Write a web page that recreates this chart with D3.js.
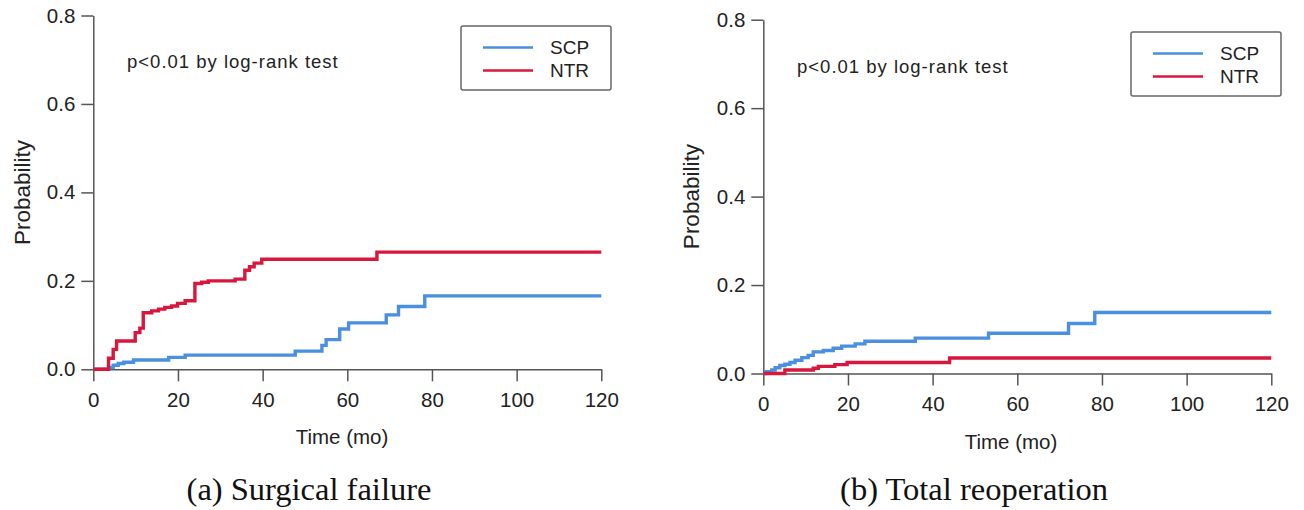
<!DOCTYPE html>
<html>
<head>
<meta charset="utf-8">
<script src="https://cdn.jsdelivr.net/npm/d3@7"></script>
<style>
  body { margin: 0; background: #fff; }
  text { font-family: "Liberation Sans", Arial, sans-serif; fill: #222; }
  .caption { font-family: "Liberation Serif", "Times New Roman", serif; fill: #111; }
</style>
</head>
<body>
<svg width="1304" height="510"></svg>
<script>
var timeTicks = [0, 20, 40, 60, 80, 100, 120];
var probTicks = [0, 0.2, 0.4, 0.6, 0.8];
var seriesNames = ["SCP", "NTR"];
var pText = "p<0.01 by log-rank test";
var captions = ["(a) Surgical failure", "(b) Total reoperation"];

// (a) surgical failure
var failScpT = [0, 3.6, 4.7, 5.9, 7.2, 9.5, 17.8, 21.7, 47.7, 54, 55, 58.2, 60.3, 69.2, 72.1, 78.3, 120];
var failScpP = [0, 0.004, 0.009, 0.013, 0.016, 0.021, 0.027, 0.032, 0.041, 0.054, 0.067, 0.091, 0.105, 0.123, 0.142, 0.166, 0.166];
var failNtrT = [0, 3.6, 4.7, 5.5, 9.9, 11.0, 11.8, 13.8, 15.4, 16.9, 18.5, 19.9, 21.7, 24.0, 25.6, 27.2, 33.5, 35.8, 36.9, 38.0, 39.8, 67, 120];
var failNtrP = [0, 0.025, 0.045, 0.064, 0.083, 0.093, 0.128, 0.132, 0.136, 0.14, 0.143, 0.149, 0.155, 0.194, 0.197, 0.2, 0.204, 0.224, 0.232, 0.24, 0.249, 0.265, 0.265];

// (b) total reoperation
var reopScpT = [0, 0.5, 2.0, 2.8, 3.9, 5.1, 6.3, 7.5, 9.1, 10.6, 11.8, 14.2, 16.5, 18.5, 21.7, 24.0, 35.9, 53.2, 72.1, 78.3, 120];
var reopScpP = [0, 0.004, 0.008, 0.013, 0.018, 0.021, 0.025, 0.03, 0.036, 0.041, 0.049, 0.052, 0.057, 0.062, 0.067, 0.073, 0.08, 0.091, 0.113, 0.138, 0.138];
var reopNtrT = [0, 5.1, 11.8, 13.0, 16.9, 19.8, 44.0, 120];
var reopNtrP = [0, 0.008, 0.012, 0.016, 0.02, 0.025, 0.035, 0.035];

var colors = ["#4a8fe0", "#d8173c"];

var svg = d3.select("svg");

var panels = [
  { x0: 93.3, x1: 601.3, y0: 369.3, y1: 15.5, ylab: 22.5, xlab: 342, pX: 127, pY: 68,
    leg: [461, 26, 150, 64], cap: 309,
    curves: [[failScpT, failScpP], [failNtrT, failNtrP]] },
  { x0: 763.3, x1: 1271.3, y0: 373.5, y1: 19.7, ylab: 691, xlab: 1011, pX: 797, pY: 73,
    leg: [1131, 32, 150, 64], cap: 974,
    curves: [[reopScpT, reopScpP], [reopNtrT, reopNtrP]] }
];

panels.forEach(function(p, i) {
  var x = d3.scaleLinear().domain([0, 120]).range([p.x0, p.x1]);
  var y = d3.scaleLinear().domain([0, 0.8]).range([p.y0, p.y1]);
  var g = svg.append("g");

  var xAxis = g.append("g")
    .attr("transform", "translate(0," + p.y0 + ")")
    .call(d3.axisBottom(x).tickValues(timeTicks).tickSize(12).tickSizeOuter(0).tickPadding(11));
  var yAxis = g.append("g")
    .attr("transform", "translate(" + p.x0 + ",0)")
    .call(d3.axisLeft(y).tickValues(probTicks).tickFormat(d3.format(".1f")).tickSize(12).tickSizeOuter(0).tickPadding(6));
  [xAxis, yAxis].forEach(function(a) {
    a.selectAll("path, line").attr("stroke", "#555").attr("stroke-width", 1.5);
    a.selectAll("text").attr("font-size", 20.5).attr("fill", "#222")
      .style("font-family", '"Liberation Sans", Arial, sans-serif');
  });

  g.append("text")
    .attr("transform", "translate(" + p.ylab + "," + (p.y0 + p.y1) / 2 + ") rotate(-90)")
    .attr("text-anchor", "middle").attr("dy", "0.35em")
    .attr("font-size", 22.5)
    .text("Probability");
  g.append("text")
    .attr("x", p.xlab).attr("y", p.y0 + 75)
    .attr("text-anchor", "middle")
    .attr("font-size", 20.5)
    .text("Time (mo)");

  g.append("text")
    .attr("x", p.pX).attr("y", p.pY)
    .attr("font-size", 18.5).attr("letter-spacing", 1)
    .text(pText);

  var line = d3.line()
    .x(function(d) { return x(d[0]); })
    .y(function(d) { return y(d[1]); })
    .curve(d3.curveStepAfter);

  p.curves.forEach(function(c, k) {
    var pts = c[0].map(function(t, j) { return [t, c[1][j]]; });
    g.append("path")
      .datum(pts)
      .attr("d", line)
      .attr("fill", "none")
      .attr("stroke", colors[k])
      .attr("stroke-width", 3.4);
  });

  // legend
  var lg = g.append("g").attr("transform", "translate(" + p.leg[0] + "," + p.leg[1] + ")");
  lg.append("rect")
    .attr("width", p.leg[2]).attr("height", p.leg[3]).attr("rx", 2)
    .attr("fill", "#fff").attr("stroke", "#666").attr("stroke-width", 1.5);
  seriesNames.forEach(function(name, k) {
    var ly = 21.5 + k * 23;
    lg.append("line")
      .attr("x1", 22).attr("x2", 72).attr("y1", ly).attr("y2", ly)
      .attr("stroke", colors[k]).attr("stroke-width", 2.5);
    lg.append("text")
      .attr("x", 89).attr("y", ly).attr("dy", "0.36em")
      .attr("font-size", 19)
      .text(name);
  });

  svg.append("text")
    .attr("class", "caption")
    .attr("x", p.cap).attr("y", 500)
    .attr("text-anchor", "middle")
    .attr("font-size", 32.5)
    .text(captions[i]);
});
</script>
</body>
</html>
